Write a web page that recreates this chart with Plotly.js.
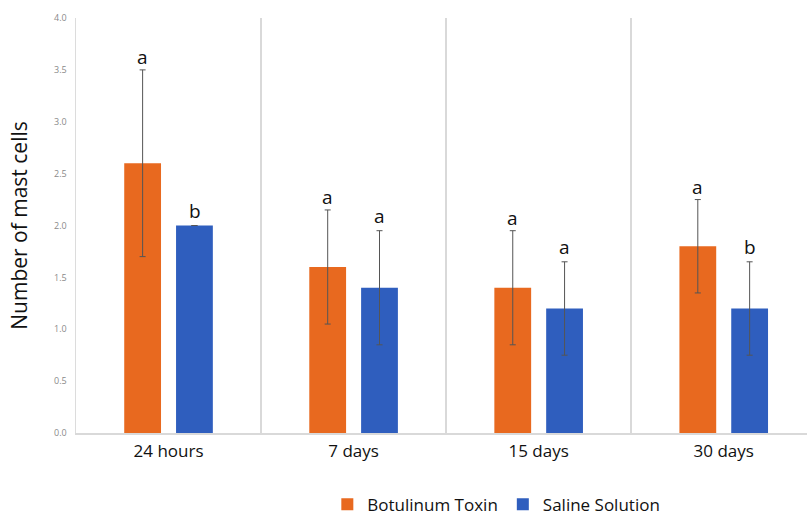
<!DOCTYPE html>
<html>
<head>
<meta charset="utf-8">
<script src="https://cdn.plot.ly/plotly-3.0.1.min.js"></script>
<style>html,body{margin:0;padding:0;background:#fff;}#chart{width:807px;height:515px;}</style>
</head>
<body>
<div id="chart"></div>
<script>
const categories = ["24 hours", "7 days", "15 days", "30 days"];
const botoxValues = [2.6, 1.6, 1.4, 1.8];
const botoxErrors = [0.9, 0.55, 0.55, 0.45];
const salineValues = [2.0, 1.4, 1.2, 1.2];
const salineErrors = [0.0, 0.55, 0.45, 0.45];
const botoxLetters = ["a", "a", "a", "a"];
const salineLetters = ["b", "a", "a", "b"];
const yTicks = [0, 0.5, 1, 1.5, 2, 2.5, 3, 3.5, 4];

const orange = "#E8691F";
const blue = "#2F5EBE";
const errStyle = {type: "data", visible: true, color: "#555555", thickness: 1, width: 3};

const traces = [
  {type: "bar", name: "Botulinum Toxin", x: categories, y: botoxValues,
   marker: {color: orange}, error_y: Object.assign({array: botoxErrors}, errStyle)},
  {type: "bar", name: "Saline Solution", x: categories, y: salineValues,
   marker: {color: blue}, error_y: Object.assign({array: salineErrors}, errStyle)}
];

const annotations = [];
categories.forEach((c, i) => {
  annotations.push({x: c, y: botoxValues[i] + botoxErrors[i], xref: "x", yref: "y",
    text: botoxLetters[i], showarrow: false, xshift: -26, yshift: -2, yanchor: "bottom",
    font: {family: "Open Sans, sans-serif", size: 19, color: "#111"}});
  annotations.push({x: c, y: salineValues[i] + salineErrors[i], xref: "x", yref: "y",
    text: salineLetters[i], showarrow: false, xshift: 26, yshift: 0, yanchor: "bottom",
    font: {family: "Open Sans, sans-serif", size: 19, color: "#111"}});
});

const layout = {
  width: 807, height: 515,
  margin: {l: 76, r: 0, t: 18, b: 82, autoexpand: false},
  paper_bgcolor: "#fff", plot_bgcolor: "#fff",
  barmode: "group", bargap: 0.44, bargroupgap: 0.29,
  font: {family: "Open Sans, sans-serif"},
  xaxis: {
    type: "category", range: [-0.5, 3.45],
    tickson: "boundaries", showgrid: true, gridcolor: "#d9d9d9", gridwidth: 1.5,
    showline: true, linecolor: "#d9d9d9", linewidth: 1.5,
    ticks: "", ticklabelstandoff: 2,
    tickfont: {family: "Open Sans, sans-serif", size: 17, color: "#111"},
    zeroline: false
  },
  yaxis: {
    range: [0, 4], tickvals: yTicks, tickformat: ".1f",
    showgrid: false, zeroline: false,
    showline: true, linecolor: "#dcdcdc", linewidth: 1.5,
    ticks: "", ticklabelstandoff: 6,
    tickfont: {family: "Open Sans, sans-serif", size: 9, color: "#8a8a8a"},
    title: {text: "Number of mast cells", standoff: 20,
      font: {family: "Open Sans, sans-serif", size: 21, color: "#111"}}
  },
  showlegend: true,
  legend: {orientation: "h", x: 0.575, xanchor: "center", yref: "container", y: 0.02, yanchor: "middle",
    font: {family: "Open Sans, sans-serif", size: 17, color: "#111"}},
  annotations: annotations
};

Plotly.newPlot("chart", traces, layout, {displayModeBar: false, staticPlot: true});
</script>
</body>
</html>
